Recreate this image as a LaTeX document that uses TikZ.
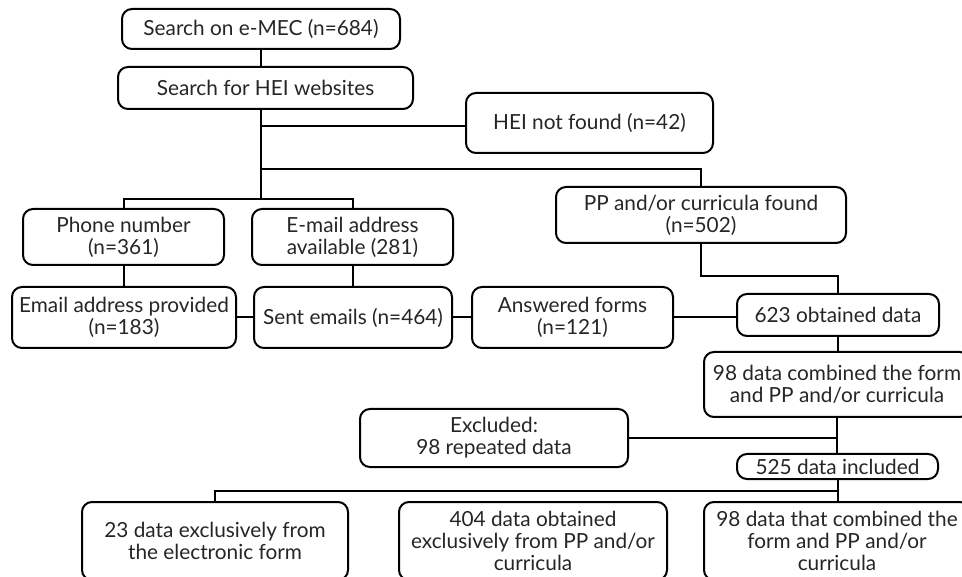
\documentclass[tikz,border=0pt]{standalone}
\usepackage{fontspec}
\setmainfont{Lato}
\begin{document}
\begin{tikzpicture}[x=1pt,y=-1pt,
  box/.style={draw=black, line width=2pt, rounded corners=10pt, align=center,
    inner sep=0pt, font=\fontsize{20.8}{21.8}\selectfont, text=black!85},
  conn/.style={draw=black, line width=2pt}]
\clip (0,0) rectangle (962,577);
\fill[white] (0,0) rectangle (962,577);
\node[box, minimum width=278pt, minimum height=40pt] (emec) at (261,29) {Search on e-MEC (n=684)};
\node[box, minimum width=295pt, minimum height=42pt] (web) at (265.5,88) {Search for HEI websites};
\node[box, minimum width=247pt, minimum height=60pt] (nf) at (589.5,123) {HEI not found (n=42)};
\node[box, minimum width=290pt, minimum height=56pt] (pp) at (701,215) {PP and/or curricula found\\(n=502)};
\node[box, minimum width=201pt, minimum height=56pt] (phone) at (123.5,237) {Phone number\\(n=361)};
\node[box, minimum width=201pt, minimum height=56pt] (avail) at (352.5,237) {E-mail address\\available (281)};
\node[box, minimum width=224pt, minimum height=61pt] (prov) at (124,317.5) {Email address provided\\(n=183)};
\node[box, minimum width=198pt, minimum height=61pt] (sent) at (353,317.5) {Sent emails (n=464)};
\node[box, minimum width=201pt, minimum height=61pt] (ans) at (572.5,317.5) {Answered forms\\(n=121)};
\node[box, minimum width=202pt, minimum height=42pt] (obt) at (838,315) {623 obtained data};
\node[box, minimum width=266pt, minimum height=65pt] (comb) at (837,384.5) {98 data combined the form\\and PP and/or curricula};
\node[box, minimum width=268pt, minimum height=58pt] (excl) at (494,438) {Excluded:\\98 repeated data};
\node[box, minimum width=201pt, minimum height=25pt] (incl) at (837.5,466.5) {525 data included};
\node[box, minimum width=266pt, minimum height=78pt] (bl) at (215,541) {23 data exclusively from\\the electronic form};
\node[box, minimum width=268pt, minimum height=78pt] (bm) at (533,541) {404 data obtained\\exclusively from PP and/or\\curricula};
\node[box, minimum width=266pt, minimum height=78pt] (br) at (837,541) {98 data that combined the\\form and PP and/or\\curricula};
\coordinate (t0) at (261,109);
\coordinate (t1) at (261,126);
\coordinate (t2) at (261,169);
\coordinate (t3) at (261,199);
\coordinate (p1) at (701,276);
\coordinate (e1) at (837,438);
\coordinate (b1) at (837,491);
\draw[conn] (emec.south) -- (emec.south |- web.north);
\draw[conn] (t0) -- (t3);
\draw[conn] (t1) -- (t1 -| nf.west);
\draw[conn] (t2) -| (pp.north);
\draw[conn] (phone.north) |- (t3) -| (avail.north);
\draw[conn] (phone.south) -- (phone.south |- prov.north);
\draw[conn] (avail.south) -- (avail.south |- sent.north);
\draw[conn] (prov.east) -- (sent.west);
\draw[conn] (sent.east) -- (ans.west);
\draw[conn] (ans.east) -- (ans.east -| obt.west);
\draw[conn] (pp.south) -- (p1) -| (obt.south |- obt.north);
\draw[conn] (obt.south) -- (obt.south |- comb.north);
\draw[conn] (comb.south) -- (comb.south |- incl.north);
\draw[conn] (excl.east) -- (e1);
\draw[conn] (incl.south) -- (incl.south |- br.north);
\draw[conn] (bl.north) |- (b1);
\end{tikzpicture}
\end{document}
